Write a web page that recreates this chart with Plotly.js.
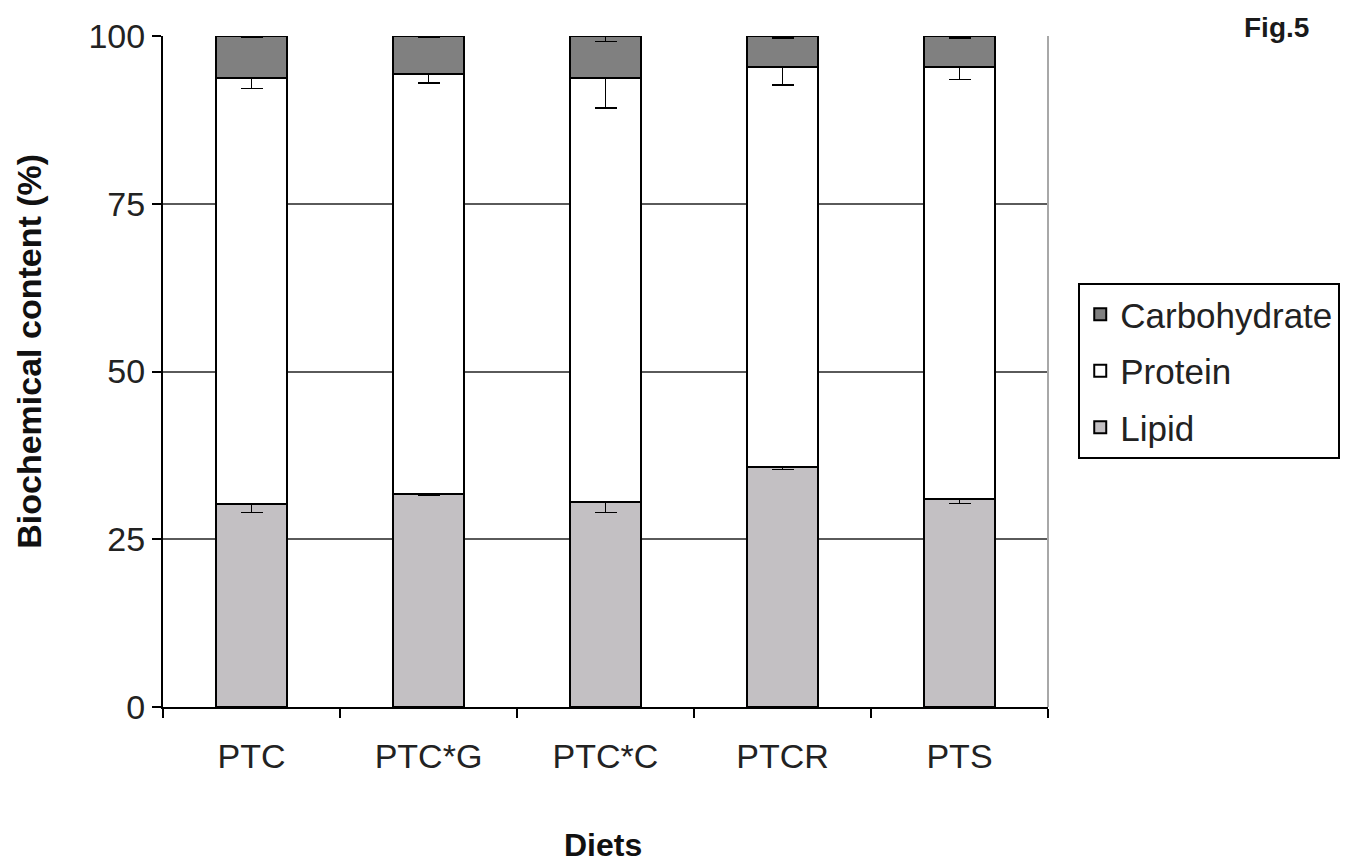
<!DOCTYPE html>
<html>
<head>
<meta charset="utf-8">
<script src="https://cdn.plot.ly/plotly-3.0.1.min.js"></script>
<style>
  html, body { margin: 0; padding: 0; background: #ffffff; }
  #chart { width: 1351px; height: 867px; }
</style>
</head>
<body>
<div id="chart"></div>
<script>
// Data
const diets = ["PTC", "PTC*G", "PTC*C", "PTCR", "PTS"];
const lipid = [30.2, 31.8, 30.6, 35.8, 31.0];
const protein = [63.6, 62.5, 63.2, 59.6, 64.4];
const carbohydrate = [6.2, 5.7, 6.2, 4.6, 4.6];
const lipidErr = [1.2, 0.3, 1.6, 0.4, 0.7];
const proteinErr = [1.6, 1.3, 4.5, 2.7, 1.9];
const carbohydrateErr = [0.2, 0.2, 0.8, 0.3, 0.3];
const yTicks = [0, 25, 50, 75, 100];

const FONT = "Liberation Sans, Arial, sans-serif";
const zeros = diets.map(() => 0);

function errBar(minus) {
  return {
    type: "data", symmetric: false, array: zeros, arrayminus: minus,
    color: "#000000", thickness: 1.5, width: 11, visible: true
  };
}

const traces = [
  { type: "bar", name: "Lipid", legendgroup: "l", legendrank: 3, x: diets, y: lipid,
    marker: { color: "#c3c0c3", line: { color: "#000000", width: 2 } },
    error_y: errBar(lipidErr) },
  { type: "bar", name: "Protein", legendgroup: "p", legendrank: 2, x: diets, y: protein,
    marker: { color: "#ffffff", line: { color: "#000000", width: 2 } },
    error_y: errBar(proteinErr) },
  { type: "bar", name: "Carbohydrate", legendgroup: "c", legendrank: 1, x: diets, y: carbohydrate,
    marker: { color: "#808080", line: { color: "#000000", width: 2 } },
    error_y: errBar(carbohydrateErr) }
];

const layout = {
  width: 1351, height: 867,
  margin: { l: 163, r: 302, t: 36, b: 160, pad: 0 },
  paper_bgcolor: "#ffffff", plot_bgcolor: "#ffffff",
  barmode: "stack", bargap: 0.6,
  font: { family: FONT, size: 33, color: "#222222" },
  showlegend: true,
  legend: {
    traceorder: "grouped",
    x: 1.033, xanchor: "left", y: 0.632, yanchor: "top",
    bordercolor: "#000000", borderwidth: 2, bgcolor: "#ffffff",
    font: { family: FONT, size: 35, color: "#222222" },
    itemwidth: 30, tracegroupgap: 8
  },
  xaxis: {
    type: "category", showgrid: false, zeroline: false,
    showline: true, linecolor: "#000000", linewidth: 2,
    ticks: "outside", ticklen: 9, tickwidth: 2, tickcolor: "#000000",
    tickson: "boundaries", ticklabelstandoff: 18,
    tickfont: { family: FONT, size: 34, color: "#222222" },
    title: { text: "" }
  },
  yaxis: {
    range: [0, 100], tickvals: yTicks, ticktext: yTicks.map(String),
    showgrid: true, gridcolor: "#5a5a5a", gridwidth: 2,
    zeroline: false, showline: true, linecolor: "#000000", linewidth: 2,
    ticks: "outside", ticklen: 9, tickwidth: 2, tickcolor: "#000000",
    tickfont: { family: FONT, size: 34, color: "#222222" },
    title: { text: "" }
  },
  shapes: [
    { type: "line", xref: "paper", yref: "paper", x0: 1, x1: 1, y0: 0, y1: 1,
      line: { color: "#a8a8a8", width: 2 } }
  ],
  annotations: [
    { text: "<b>Biochemical content (%)</b>", xref: "paper", yref: "paper",
      x: -0.151, y: 0.53, xanchor: "center", yanchor: "middle", textangle: -90,
      showarrow: false, font: { family: FONT, size: 34, color: "#111111" } },
    { text: "<b>Diets</b>", xref: "paper", yref: "paper",
      x: 0.497, y: -0.205, xanchor: "center", yanchor: "middle",
      showarrow: false, font: { family: FONT, size: 32, color: "#111111" } },
    { text: "<b>Fig.5</b>", xref: "paper", yref: "paper",
      x: 1.258, y: 1.012, xanchor: "center", yanchor: "middle",
      showarrow: false, font: { family: FONT, size: 28, color: "#1a1a1a" } }
  ]
};

Plotly.newPlot("chart", traces, layout, { displayModeBar: false, staticPlot: true });
</script>
</body>
</html>
